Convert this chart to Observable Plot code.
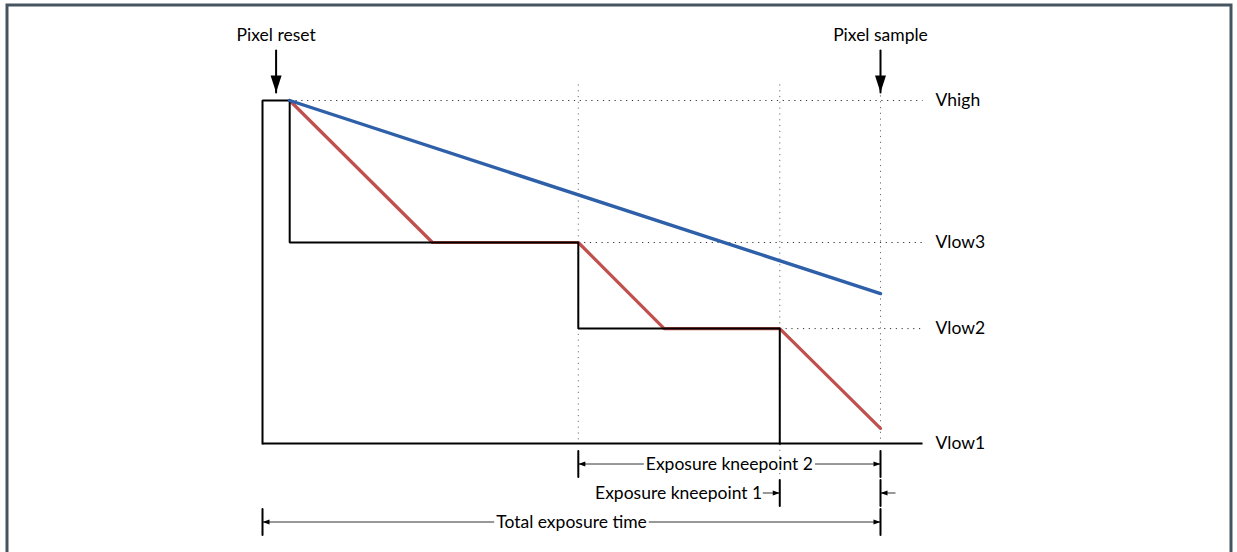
<!DOCTYPE html>
<html>
<head>
<meta charset="utf-8">
<script src="https://cdn.jsdelivr.net/npm/d3@7"></script>
<script src="https://cdn.jsdelivr.net/npm/@observablehq/plot@0.6"></script>
<style>
  html, body { margin: 0; padding: 0; background: #fff; }
  #chart svg { display: block; }
</style>
</head>
<body>
<div id="chart"></div>
<script>
// ---- Data (time: 0 = pixel reset, 100 = pixel sample; voltage: Vlow1 = 0, Vhigh = 100) ----
const levelNames  = ["Vlow1", "Vlow2", "Vlow3", "Vhigh"];
const levelValues = [0, 33.5, 58.6, 100];
const levelFrom   = [0, 83.7, 51.1, 4.4];      // where each dotted level guide starts
const axisEnd     = 106.8;

// black barrier / reset signal
const barrierT = [0, 0, 4.4, 4.4, 51.1, 51.1, 83.7, 83.7];
const barrierV = [0, 100, 100, 58.6, 58.6, 33.5, 33.5, 0];
// bright pixel (red)
const brightT = [4.4, 27.5, 51.1, 65.0, 83.7, 100];
const brightV = [100, 58.6, 58.6, 33.5, 33.5, 4.4];
// dim pixel (blue)
const dimPixT = [4.4, 100];
const dimPixV = [100, 43.7];

// vertical dotted guides
const guideT      = [51.1, 83.7, 100];
const guideTop    = [104.7, 104.7, 101.5];
const guideBottom = [0, -10.2, 0];

// top event markers
const markerLabels = ["Pixel reset", "Pixel sample"];
const markerTimes  = [2.2, 100];

// bottom dimension annotations
const dimLabels    = ["Exposure kneepoint 2", "Exposure kneepoint 1", "Total exposure time"];
const dimStart     = [51.1, 83.7, 0];
const dimEnd       = [100, 100, 100];
const dimPlacement = ["inside", "outside", "inside"];

// ---- Layout ----
const W = 1237, H = 552;
const FONT = "Lato";
const FS = 17.5;
const xDef = {domain: [0, 100], range: [262, 880]};
const yDef = {domain: [0, 100], range: [443, 100]};
const X = Plot.scale({x: xDef});
const rowDy = [20.5, 49.5, 78.5];

const ctx = document.createElement("canvas").getContext("2d");
ctx.font = `${FS}px ${FONT}`;
const tw = s => ctx.measureText(s).width;

const lineShape = {draw(c, l) { c.moveTo(0, 0); c.lineTo(0, -l); }};
const headShape = {draw(c, l, r) { c.moveTo(0, -l); c.lineTo(-r, 0); c.lineTo(r, 0); c.closePath(); }};

const pts = (T, V) => T.map((t, i) => ({t, v: V[i]}));

// build dimension pieces
const segs = [], ticks = [], heads = [], labels = [];
dimLabels.forEach((lab, i) => {
  const a = dimStart[i], b = dimEnd[i], dy = rowDy[i];
  ticks.push({t: a, dy}, {t: b, dy});
  const w = tw(lab);
  if (dimPlacement[i] === "inside") {
    const c = X.apply((a + b) / 2);
    segs.push({t1: a, t2: X.invert(c - w / 2 - 2), dy});
    segs.push({t1: X.invert(c + w / 2 + 2), t2: b, dy});
    heads.push({t: a, rot: -90, dy}, {t: b, rot: 90, dy});
    labels.push({t: (a + b) / 2, text: lab, dy, anchor: "middle", dx: 0});
  } else {
    const pa = X.apply(a), pb = X.apply(b);
    segs.push({t1: X.invert(pa - 17), t2: a, dy});
    segs.push({t1: b, t2: X.invert(pb + 15), dy});
    heads.push({t: a, rot: 90, dy}, {t: b, rot: -90, dy});
    labels.push({t: a, text: lab, dy, anchor: "end", dx: -17.5});
  }
});

const levels = levelNames.map((n, i) => ({name: n, v: levelValues[i], from: levelFrom[i]}));
const guides = guideT.map((t, i) => ({t, top: guideTop[i], bottom: guideBottom[i]}));
const markers = markerLabels.map((n, i) => ({name: n, t: markerTimes[i]}));

const chart = Plot.plot({
  width: W, height: H,
  marginTop: 0, marginRight: 0, marginBottom: 0, marginLeft: 0,
  x: {...xDef, axis: null},
  y: {...yDef, axis: null},
  style: {fontFamily: FONT, fontSize: `${FS}px`, background: "#fff", color: "#000"},
  marks: [
    Plot.frame({stroke: "#465460", strokeWidth: 3, insetLeft: 6.5, insetTop: 4.5, insetRight: 6.5, insetBottom: -6}),
    // dotted guides
    Plot.link(levels.filter(d => d.v > 0), {x1: "from", x2: axisEnd, y1: "v", y2: "v",
      stroke: "#333", strokeWidth: 1, strokeDasharray: "1.2 4.6"}),
    Plot.link(guides, {x1: "t", x2: "t", y1: "top", y2: "bottom",
      stroke: "#6f6f6f", strokeWidth: 1, strokeDasharray: "1.2 4.6"}),
    // baseline axis
    Plot.link([0], {x1: 0, x2: axisEnd, y1: 0, y2: 0, stroke: "#000", strokeWidth: 2}),
    // bright pixel
    Plot.line(pts(brightT, brightV), {x: "t", y: "v", stroke: "#c0504d", strokeWidth: 3.2, strokeLinejoin: "miter"}),
    // barrier signal
    Plot.line(pts(barrierT, barrierV), {x: "t", y: "v", stroke: "#000", strokeWidth: 2, strokeLinejoin: "miter", strokeLinecap: "square"}),
    // dim pixel
    Plot.line(pts(dimPixT, dimPixV), {x: "t", y: "v", stroke: "#2e5fa9", strokeWidth: 3.4}),
    // level labels
    Plot.text(levels, {x: axisEnd, y: "v", text: "name", dx: 13, textAnchor: "start", fontSize: FS, fill: "#000"}),
    // top markers
    Plot.text(markers, {x: "t", y: 100, text: "name", dy: -65, textAnchor: "middle", fontSize: FS, fill: "#000"}),
    Plot.vector(markers, {x: "t", y: 100, dy: -8, length: 42, rotate: 180, anchor: "end", shape: lineShape, stroke: "#000", strokeWidth: 2}),
    Plot.vector(markers, {x: "t", y: 100, dy: -8, length: 17, rotate: 180, anchor: "end", shape: headShape, r: 5.5, fill: "#000", stroke: "none"}),
    // dimension lines
    ...segs.map(s => Plot.link([s], {x1: "t1", x2: "t2", y1: 0, y2: 0, dy: s.dy, stroke: "#333", strokeWidth: 1})),
    ...ticks.map(tk => Plot.vector([tk], {x: "t", y: 0, dy: tk.dy, length: 26, anchor: "middle", shape: lineShape, stroke: "#000", strokeWidth: 2})),
    ...heads.map(h => Plot.vector([h], {x: "t", y: 0, dy: h.dy, length: 7, rotate: h.rot, anchor: "end", shape: headShape, r: 2.6, fill: "#000", stroke: "none"})),
    ...labels.map(l => Plot.text([l], {x: "t", y: 0, dy: l.dy, dx: l.dx, text: "text", textAnchor: l.anchor, fontSize: FS, fill: "#000"}))
  ]
});
document.getElementById("chart").append(chart);
</script>
</body>
</html>
